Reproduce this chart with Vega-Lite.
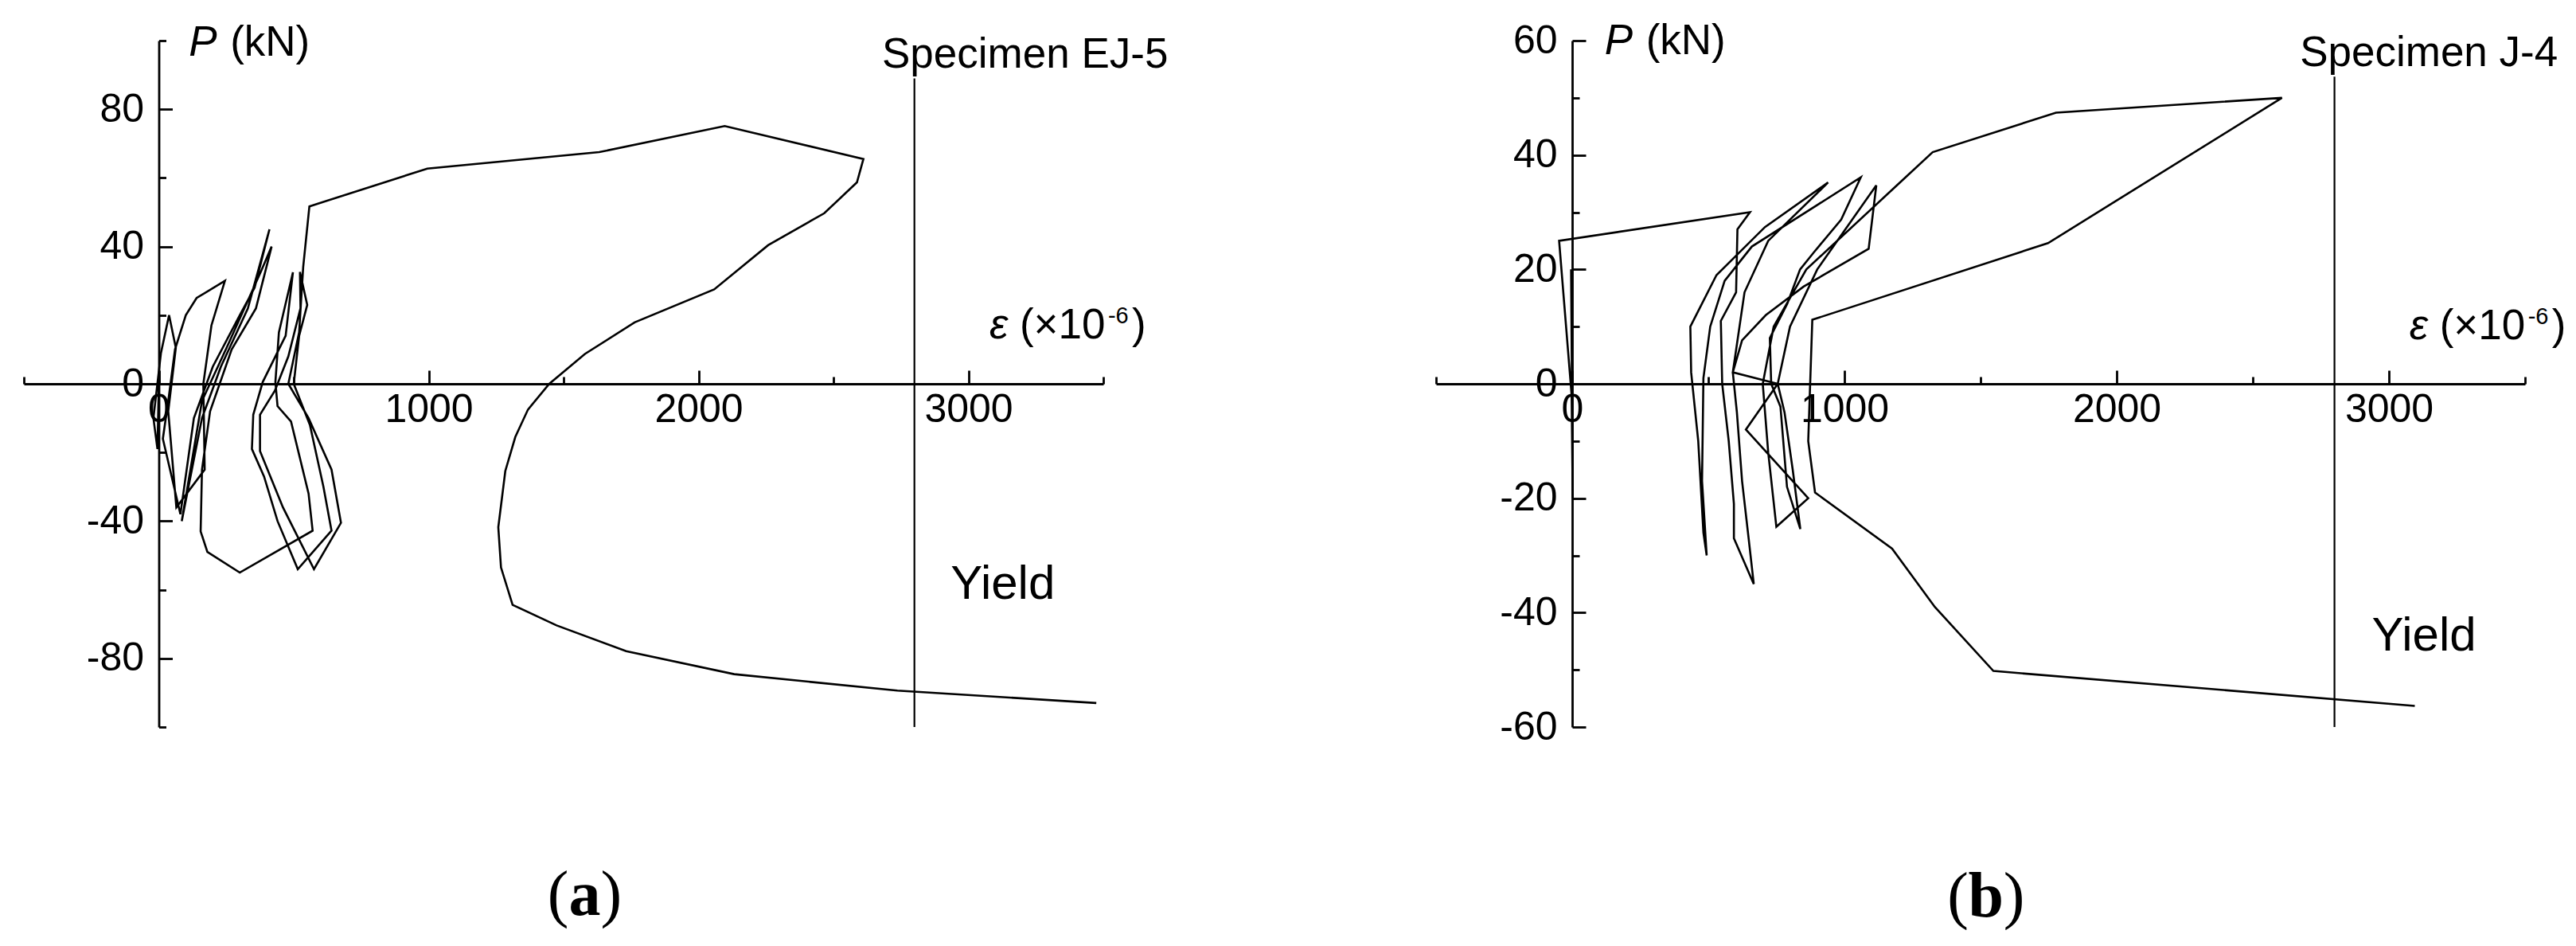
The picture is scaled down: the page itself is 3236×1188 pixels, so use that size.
{
  "$schema": "https://vega.github.io/schema/vega-lite/v6.json",
  "background": "white",
  "autosize": {"type": "pad"},
  "padding": {"left": 28, "top": 25, "right": 0, "bottom": 0},
  "spacing": 418,
  "bounds": "flush",
  "config": {
    "view": {"stroke": null},
    "axis": {
      "grid": false,
      "domainColor": "black",
      "domainWidth": 2.8,
      "tickColor": "black",
      "tickWidth": 2.8,
      "labelColor": "black",
      "labelFont": "Liberation Sans",
      "labelFontSize": 50,
      "labelOverlap": false,
      "labelBound": false,
      "labelFlush": false
    },
    "text": {"font": "Liberation Sans", "color": "black"}
  },
  "hconcat": [
    {
      "width": 1356,
      "height": 862,
      "layer": [
        {
          "data": {"values": [
            {"i":1,"e":0,"p":0},{"i":2,"e":-5,"p":-19},{"i":3,"e":-20,"p":-10},{"i":4,"e":8,"p":9},
            {"i":5,"e":38,"p":20},{"i":6,"e":63,"p":10.5},{"i":7,"e":35,"p":-8},{"i":8,"e":65,"p":-36},
            {"i":9,"e":170,"p":-25},{"i":10,"e":165,"p":0},{"i":11,"e":195,"p":17},{"i":12,"e":245,"p":30},
            {"i":13,"e":140,"p":25},{"i":14,"e":100,"p":20},{"i":15,"e":60,"p":10},{"i":16,"e":35,"p":-5},
            {"i":17,"e":15,"p":-16},{"i":18,"e":80,"p":-38},{"i":19,"e":130,"p":-10},{"i":20,"e":200,"p":5},
            {"i":21,"e":300,"p":20},{"i":22,"e":355,"p":28},{"i":23,"e":410,"p":45},{"i":24,"e":330,"p":22},
            {"i":25,"e":230,"p":5},{"i":26,"e":160,"p":-10},{"i":27,"e":85,"p":-40},{"i":28,"e":160,"p":-5},
            {"i":29,"e":260,"p":12},{"i":30,"e":380,"p":33},{"i":31,"e":418,"p":40},{"i":32,"e":360,"p":22},
            {"i":33,"e":270,"p":10},{"i":34,"e":190,"p":-8},{"i":35,"e":160,"p":-25},{"i":36,"e":155,"p":-43},
            {"i":37,"e":180,"p":-49},{"i":38,"e":300,"p":-55},{"i":39,"e":570,"p":-42.8},{"i":40,"e":555,"p":-32},
            {"i":41,"e":490,"p":-11},{"i":42,"e":440,"p":-6.5},{"i":43,"e":432,"p":0.5},{"i":44,"e":445,"p":15},
            {"i":45,"e":497,"p":32.5},{"i":46,"e":470,"p":14},{"i":47,"e":385,"p":0.5},{"i":48,"e":350,"p":-9},
            {"i":49,"e":345,"p":-19},{"i":50,"e":390,"p":-27},{"i":51,"e":440,"p":-40},{"i":52,"e":515,"p":-54},
            {"i":53,"e":640,"p":-42.8},{"i":54,"e":610,"p":-30},{"i":55,"e":560,"p":-12},{"i":56,"e":500,"p":0},
            {"i":57,"e":520,"p":14},{"i":58,"e":550,"p":23},{"i":59,"e":523,"p":32.6},{"i":60,"e":525,"p":22},
            {"i":61,"e":480,"p":8},{"i":62,"e":430,"p":-2},{"i":63,"e":375,"p":-9},{"i":64,"e":375,"p":-19.6},
            {"i":65,"e":460,"p":-36},{"i":66,"e":575,"p":-54},{"i":67,"e":675,"p":-40.5},{"i":68,"e":640,"p":-25},
            {"i":69,"e":555,"p":-10},{"i":70,"e":480,"p":0},{"i":71,"e":520,"p":15},{"i":72,"e":535,"p":34},
            {"i":73,"e":558,"p":51.7},{"i":74,"e":995,"p":62.7},{"i":75,"e":1632,"p":67.5},{"i":76,"e":2097,"p":75.1},
            {"i":77,"e":2611,"p":65.5},{"i":78,"e":2587,"p":58.7},{"i":79,"e":2466,"p":49.7},{"i":80,"e":2258,"p":40.4},
            {"i":81,"e":2058,"p":27.5},{"i":82,"e":1763,"p":17.9},{"i":83,"e":1579,"p":8.7},{"i":84,"e":1447,"p":0},
            {"i":85,"e":1368,"p":-7.5},{"i":86,"e":1321,"p":-15.5},{"i":87,"e":1284,"p":-25.4},{"i":88,"e":1258,"p":-41.8},
            {"i":89,"e":1268,"p":-53.5},{"i":90,"e":1311,"p":-64.4},{"i":91,"e":1474,"p":-70.4},{"i":92,"e":1732,"p":-77.9},
            {"i":93,"e":2132,"p":-84.6},{"i":94,"e":2737,"p":-89.4},{"i":95,"e":3474,"p":-93}
          ]},
          "mark": {"type": "line", "color": "black", "strokeWidth": 2.6, "strokeJoin": "miter"},
          "encoding": {
            "x": {
              "field": "e", "type": "quantitative",
              "scale": {"domain": [-500, 3500], "nice": false, "zero": false},
              "axis": {
                "orient": "bottom", "offset": -431, "title": null,
                "values": [-500, 0, 500, 1000, 1500, 2000, 2500, 3000, 3500],
                "tickSize": {"condition": {"test": "datum.value % 1000 === 0", "value": -17}, "value": -9},
                "labelPadding": 24,
                "labelExpr": "datum.value >= 0 && datum.value % 1000 === 0 ? '' + datum.value : ''"
              }
            },
            "y": {
              "field": "p", "type": "quantitative",
              "scale": {"domain": [-100, 100], "nice": false, "zero": false},
              "axis": {
                "orient": "left", "offset": -169.5, "title": null,
                "values": [-100, -80, -60, -40, -20, 0, 20, 40, 60, 80, 100],
                "tickSize": {"condition": {"test": "datum.value % 40 === 0", "value": -17}, "value": -9},
                "labelPadding": 36,
                "labelExpr": "datum.value % 40 === 0 ? '' + datum.value : ''"
              }
            },
            "order": {"field": "i", "type": "quantitative"}
          }
        },
        {
          "data": {"values": [{}]},
          "mark": {"type": "rule", "color": "black", "strokeWidth": 2.2},
          "encoding": {"x": {"datum": 2800}, "y": {"datum": -100}, "y2": {"datum": 89}}
        },
        {
          "data": {"values": [{}]},
          "mark": {"type": "text", "text": "P", "fontStyle": "italic", "fontSize": 53, "align": "left", "baseline": "alphabetic"},
          "encoding": {"x": {"datum": 111}, "y": {"datum": 95.6}}
        },
        {
          "data": {"values": [{}]},
          "mark": {"type": "text", "text": "(kN)", "fontSize": 53, "align": "left", "baseline": "alphabetic", "dx": 52},
          "encoding": {"x": {"datum": 111}, "y": {"datum": 95.6}}
        },
        {
          "data": {"values": [{}]},
          "mark": {"type": "text", "text": "ε", "fontStyle": "italic", "fontSize": 53, "align": "left", "baseline": "alphabetic"},
          "encoding": {"x": {"datum": 3078}, "y": {"datum": 13.2}}
        },
        {
          "data": {"values": [{}]},
          "mark": {"type": "text", "text": "(×10", "fontSize": 53, "align": "left", "baseline": "alphabetic", "dx": 38},
          "encoding": {"x": {"datum": 3078}, "y": {"datum": 13.2}}
        },
        {
          "data": {"values": [{}]},
          "mark": {"type": "text", "text": "-6", "fontSize": 29, "align": "left", "baseline": "alphabetic", "dx": 149, "dy": -19},
          "encoding": {"x": {"datum": 3078}, "y": {"datum": 13.2}}
        },
        {
          "data": {"values": [{}]},
          "mark": {"type": "text", "text": ")", "fontSize": 53, "align": "left", "baseline": "alphabetic", "dx": 179},
          "encoding": {"x": {"datum": 3078}, "y": {"datum": 13.2}}
        },
        {
          "data": {"values": [{}]},
          "mark": {"type": "text", "text": "Specimen EJ-5", "fontSize": 53, "align": "left", "baseline": "alphabetic"},
          "encoding": {"x": {"datum": 2680}, "y": {"datum": 92}}
        },
        {
          "data": {"values": [{}]},
          "mark": {"type": "text", "text": "Yield", "fontSize": 60, "align": "left", "baseline": "alphabetic"},
          "encoding": {"x": {"datum": 2934}, "y": {"datum": -62.7}}
        },
        {
          "data": {"values": [{}]},
          "mark": {"type": "text", "text": "a", "font": "Liberation Serif", "fontWeight": "bold", "fontSize": 80, "align": "center", "baseline": "alphabetic"},
          "encoding": {"x": {"datum": 1578}, "y": {"datum": -154.8}}
        },
        {
          "data": {"values": [{}]},
          "mark": {"type": "text", "text": "(", "font": "Liberation Serif", "fontSize": 80, "align": "right", "baseline": "alphabetic", "dx": -20},
          "encoding": {"x": {"datum": 1578}, "y": {"datum": -154.8}}
        },
        {
          "data": {"values": [{}]},
          "mark": {"type": "text", "text": ")", "font": "Liberation Serif", "fontSize": 80, "align": "left", "baseline": "alphabetic", "dx": 20},
          "encoding": {"x": {"datum": 1578}, "y": {"datum": -154.8}}
        }
      ]
    },
    {
      "width": 1368,
      "height": 862,
      "layer": [
        {
          "data": {"values": [
            {"i":1,"e":0,"p":0},{"i":2,"e":-4,"p":20},{"i":3,"e":-1,"p":0},{"i":4,"e":2,"p":-20},
            {"i":5,"e":-2,"p":-2},{"i":6,"e":-48,"p":25},{"i":7,"e":653,"p":30},{"i":8,"e":607,"p":27},
            {"i":9,"e":602,"p":16},{"i":10,"e":546,"p":11},{"i":11,"e":551,"p":0},{"i":12,"e":575,"p":-10},
            {"i":13,"e":594,"p":-21},{"i":14,"e":594,"p":-27},{"i":15,"e":667,"p":-35},{"i":16,"e":648,"p":-27},
            {"i":17,"e":624,"p":-17},{"i":18,"e":605,"p":-5},{"i":19,"e":590,"p":2},{"i":20,"e":633,"p":16},
            {"i":21,"e":720,"p":25},{"i":22,"e":940,"p":35.2},{"i":23,"e":708,"p":27.4},{"i":24,"e":530,"p":19},
            {"i":25,"e":434,"p":10},{"i":26,"e":437,"p":2},{"i":27,"e":463,"p":-10},{"i":28,"e":482,"p":-26},
            {"i":29,"e":494,"p":-30},{"i":30,"e":477,"p":-17},{"i":31,"e":482,"p":1},{"i":32,"e":507,"p":10},
            {"i":33,"e":560,"p":18},{"i":34,"e":660,"p":24},{"i":35,"e":1060,"p":36.1},{"i":36,"e":988,"p":28.7},
            {"i":37,"e":888,"p":23},{"i":38,"e":837,"p":20},{"i":39,"e":790,"p":14},{"i":40,"e":726,"p":8},
            {"i":41,"e":731,"p":0},{"i":42,"e":765,"p":-4},{"i":43,"e":789,"p":-18},{"i":44,"e":838,"p":-25.4},
            {"i":45,"e":810,"p":-15},{"i":46,"e":780,"p":-5},{"i":47,"e":755,"p":0},{"i":48,"e":800,"p":10},
            {"i":49,"e":900,"p":20},{"i":50,"e":1117,"p":34.7},{"i":51,"e":1089,"p":23.6},{"i":52,"e":850,"p":17},
            {"i":53,"e":711,"p":12},{"i":54,"e":624,"p":7.6},{"i":55,"e":590,"p":2},{"i":56,"e":755,"p":0},
            {"i":57,"e":638,"p":-8},{"i":58,"e":867,"p":-20},{"i":59,"e":750,"p":-25},{"i":60,"e":720,"p":-12},
            {"i":61,"e":700,"p":0},{"i":62,"e":740,"p":10},{"i":63,"e":860,"p":20},{"i":64,"e":1195,"p":34.8},
            {"i":65,"e":1324,"p":40.5},{"i":66,"e":1777,"p":47.4},{"i":67,"e":2607,"p":50},{"i":68,"e":1748,"p":24.6},
            {"i":69,"e":882,"p":11.2},{"i":70,"e":867,"p":-10},{"i":71,"e":892,"p":-19},{"i":72,"e":1175,"p":-28.8},
            {"i":73,"e":1332,"p":-39},{"i":74,"e":1547,"p":-50.2},{"i":75,"e":3095,"p":-56.3}
          ]},
          "mark": {"type": "line", "color": "black", "strokeWidth": 2.6, "strokeJoin": "miter"},
          "encoding": {
            "x": {
              "field": "e", "type": "quantitative",
              "scale": {"domain": [-500, 3500], "nice": false, "zero": false},
              "axis": {
                "orient": "bottom", "offset": -431, "title": null,
                "values": [-500, 0, 500, 1000, 1500, 2000, 2500, 3000, 3500],
                "tickSize": {"condition": {"test": "datum.value % 1000 === 0", "value": -17}, "value": -9},
                "labelPadding": 24,
                "labelExpr": "datum.value >= 0 && datum.value % 1000 === 0 ? '' + datum.value : ''"
              }
            },
            "y": {
              "field": "p", "type": "quantitative",
              "scale": {"domain": [-60, 60], "nice": false, "zero": false},
              "axis": {
                "orient": "left", "offset": -171, "title": null,
                "values": [-60, -50, -40, -30, -20, -10, 0, 10, 20, 30, 40, 50, 60],
                "tickSize": {"condition": {"test": "datum.value % 20 === 0", "value": -17}, "value": -9},
                "labelPadding": 36,
                "labelExpr": "datum.value % 20 === 0 ? '' + datum.value : ''"
              }
            },
            "order": {"field": "i", "type": "quantitative"}
          }
        },
        {
          "data": {"values": [{}]},
          "mark": {"type": "rule", "color": "black", "strokeWidth": 2.2},
          "encoding": {"x": {"datum": 2800}, "y": {"datum": -60}, "y2": {"datum": 53.7}}
        },
        {
          "data": {"values": [{}]},
          "mark": {"type": "text", "text": "P", "fontStyle": "italic", "fontSize": 53, "align": "left", "baseline": "alphabetic"},
          "encoding": {"x": {"datum": 119}, "y": {"datum": 57.7}}
        },
        {
          "data": {"values": [{}]},
          "mark": {"type": "text", "text": "(kN)", "fontSize": 53, "align": "left", "baseline": "alphabetic", "dx": 52},
          "encoding": {"x": {"datum": 119}, "y": {"datum": 57.7}}
        },
        {
          "data": {"values": [{}]},
          "mark": {"type": "text", "text": "ε", "fontStyle": "italic", "fontSize": 53, "align": "left", "baseline": "alphabetic"},
          "encoding": {"x": {"datum": 3075}, "y": {"datum": 7.8}}
        },
        {
          "data": {"values": [{}]},
          "mark": {"type": "text", "text": "(×10", "fontSize": 53, "align": "left", "baseline": "alphabetic", "dx": 38},
          "encoding": {"x": {"datum": 3075}, "y": {"datum": 7.8}}
        },
        {
          "data": {"values": [{}]},
          "mark": {"type": "text", "text": "-6", "fontSize": 29, "align": "left", "baseline": "alphabetic", "dx": 149, "dy": -19},
          "encoding": {"x": {"datum": 3075}, "y": {"datum": 7.8}}
        },
        {
          "data": {"values": [{}]},
          "mark": {"type": "text", "text": ")", "fontSize": 53, "align": "left", "baseline": "alphabetic", "dx": 179},
          "encoding": {"x": {"datum": 3075}, "y": {"datum": 7.8}}
        },
        {
          "data": {"values": [{}]},
          "mark": {"type": "text", "text": "Specimen J-4", "fontSize": 53, "align": "left", "baseline": "alphabetic"},
          "encoding": {"x": {"datum": 2673}, "y": {"datum": 55.6}}
        },
        {
          "data": {"values": [{}]},
          "mark": {"type": "text", "text": "Yield", "fontSize": 60, "align": "left", "baseline": "alphabetic"},
          "encoding": {"x": {"datum": 2937}, "y": {"datum": -46.6}}
        },
        {
          "data": {"values": [{}]},
          "mark": {"type": "text", "text": "b", "font": "Liberation Serif", "fontWeight": "bold", "fontSize": 80, "align": "center", "baseline": "alphabetic"},
          "encoding": {"x": {"datum": 1520}, "y": {"datum": -93.2}}
        },
        {
          "data": {"values": [{}]},
          "mark": {"type": "text", "text": "(", "font": "Liberation Serif", "fontSize": 80, "align": "right", "baseline": "alphabetic", "dx": -22},
          "encoding": {"x": {"datum": 1520}, "y": {"datum": -93.2}}
        },
        {
          "data": {"values": [{}]},
          "mark": {"type": "text", "text": ")", "font": "Liberation Serif", "fontSize": 80, "align": "left", "baseline": "alphabetic", "dx": 22},
          "encoding": {"x": {"datum": 1520}, "y": {"datum": -93.2}}
        }
      ]
    }
  ]
}
